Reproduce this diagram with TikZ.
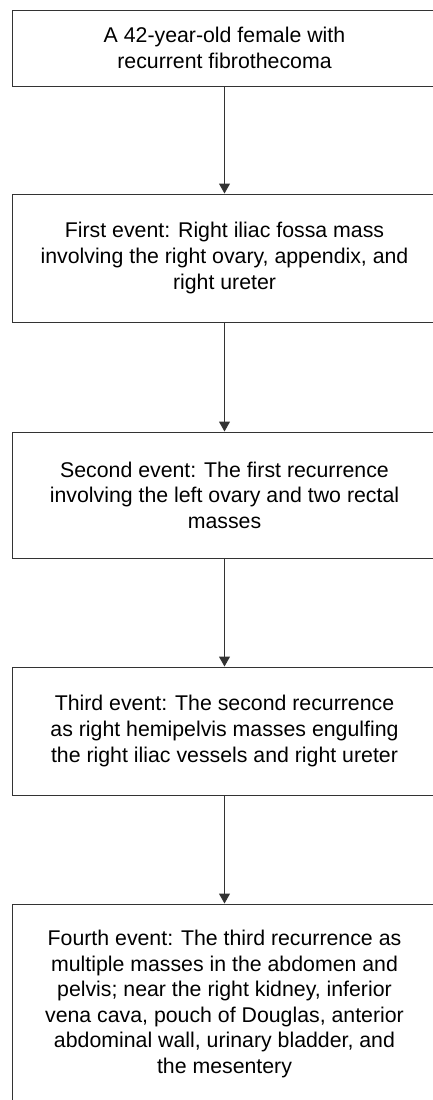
\documentclass[tikz,border=0pt]{standalone}
\usepackage{fontspec}
\setmainfont{Liberation Sans}
\usetikzlibrary{arrows.meta}

\begin{document}
\begin{tikzpicture}
[>={Triangle[length=10pt,width=11pt]}, x=1pt, y=1pt,
eventbox/.style={draw=black!80, line width=1pt, minimum width=425pt, inner sep=0pt,
  align=center, font=\fontsize{21.3}{25.6}\selectfont}]
\useasboundingbox (0,0) rectangle (432,-1100);
\node[eventbox, minimum height=76pt] (patient) at (224.5,-48)
{A 42-year-old female with\\recurrent fibrothecoma};
\node[eventbox, minimum height=128pt] (firstevent) at (224.5,-258)
{First event: Right iliac fossa mass\\involving the right ovary, appendix, and\\right ureter};
\node[eventbox, minimum height=126pt] (secondevent) at (224.5,-495)
{Second event: The first recurrence\\involving the left ovary and two rectal\\masses};
\node[eventbox, minimum height=128pt] (thirdevent) at (224.5,-731)
{Third event: The second recurrence\\as right hemipelvis masses engulfing\\the right iliac vessels and right ureter};
\node[eventbox, minimum height=200pt] (fourthevent) at (224.5,-1004)
{Fourth event: The third recurrence as\\multiple masses in the abdomen and\\pelvis; near the right kidney, inferior\\vena cava, pouch of Douglas, anterior\\abdominal wall, urinary bladder, and\\the mesentery};

\draw[->, line width=1pt, draw=black!80] (patient) -- (firstevent);
\draw[->, line width=1pt, draw=black!80] (firstevent) -- (secondevent);
\draw[->, line width=1pt, draw=black!80] (secondevent) -- (thirdevent);
\draw[->, line width=1pt, draw=black!80] (thirdevent) -- (fourthevent);
\end{tikzpicture}
\end{document}
